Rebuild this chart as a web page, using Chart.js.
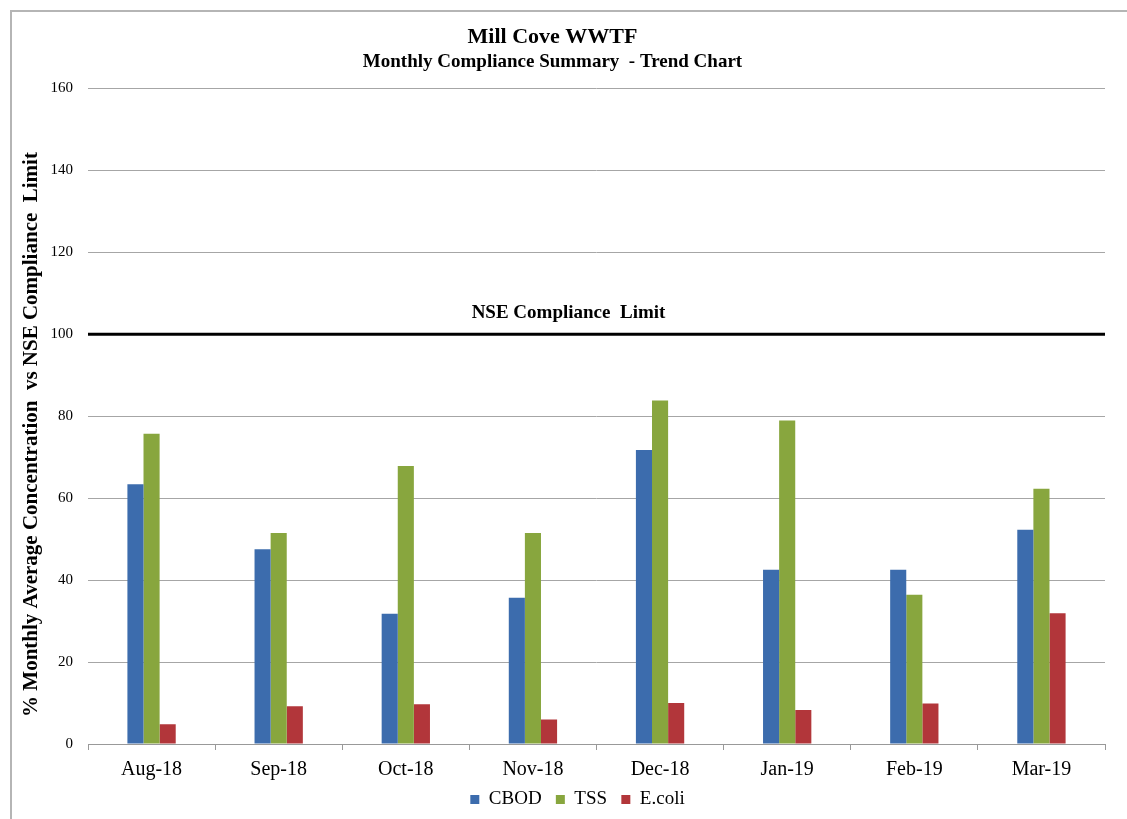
<!DOCTYPE html>
<html lang="en">
<head>
  <meta charset="UTF-8">
  <title>Mill Cove WWTF - Monthly Compliance Summary</title>
  <script src="https://cdn.jsdelivr.net/npm/chart.js"></script>
  <style>
    html, body { margin: 0; padding: 0; background: #fff; }
    #wrap { position: absolute; left: 0; top: 0; width: 1127px; height: 819px; }
  </style>
</head>
<body>

<div id="wrap"><canvas id="trendChart" width="1127" height="819"></canvas></div>

<script>
// categories and series (% of NSE compliance limit)
var months = ['Aug-18', 'Sep-18', 'Oct-18', 'Nov-18', 'Dec-18', 'Jan-19', 'Feb-19', 'Mar-19'];
var cbod   = [63.4, 47.5, 31.8, 35.7, 71.7, 42.5, 42.5, 52.3];
var tss    = [75.7, 51.5, 67.8, 51.5, 83.8, 78.9, 36.4, 62.3];
var ecoli  = [4.8, 9.2, 9.7, 6.0, 10.0, 8.3, 9.9, 31.9];
var yTicks = [0, 20, 40, 60, 80, 100, 120, 140, 160];
var complianceLimit = 100;
var serif = '"Liberation Serif", "Times New Roman", serif';

// frame round the chart
var framePlugin = {
  id: 'frame',
  beforeDraw: function (chart) {
    var c = chart.ctx;
    c.save();
    c.strokeStyle = '#b5b5b5';
    c.lineWidth = 2;
    c.beginPath();
    c.moveTo(11, 830);
    c.lineTo(11, 11);
    c.lineTo(1130, 11);
    c.stroke();
    c.restore();
  }
};

// thick black line at the compliance limit, with its label
var limitPlugin = {
  id: 'limitLine',
  afterDatasetsDraw: function (chart) {
    var c = chart.ctx, a = chart.chartArea;
    var y = chart.scales.y.getPixelForValue(complianceLimit);
    c.save();
    c.strokeStyle = '#000';
    c.lineWidth = 3;
    c.beginPath();
    c.moveTo(a.left, y);
    c.lineTo(a.right, y);
    c.stroke();
    c.fillStyle = '#000';
    c.font = 'bold 19px ' + serif;
    c.textAlign = 'center';
    c.textBaseline = 'bottom';
    c.fillText('NSE Compliance  Limit', (a.left + a.right) / 2 - 28, y - 12);
    c.restore();
  }
};

var ctx = document.getElementById('trendChart').getContext('2d');
var chart = new Chart(ctx, {
  type: 'bar',
  data: {
    labels: months,
    datasets: [
      { label: 'CBOD', data: cbod, backgroundColor: '#3c6cad' },
      { label: 'TSS', data: tss, backgroundColor: '#88a63e' },
      { label: 'E.coli', data: ecoli, backgroundColor: '#b2363a' }
    ]
  },
  options: {
    responsive: false,
    animation: false,
    categoryPercentage: 0.38,
    barPercentage: 1.0,
    layout: { padding: { left: 0, right: 22, top: 14, bottom: 0 } },
    plugins: {
      title: {
        display: true,
        text: 'Mill Cove WWTF',
        color: '#000',
        font: { family: serif, size: 22, weight: 'bold' },
        padding: { top: 10, bottom: 0 }
      },
      subtitle: {
        display: true,
        text: 'Monthly Compliance Summary  - Trend Chart',
        color: '#000',
        font: { family: serif, size: 19, weight: 'bold' },
        padding: { top: 0, bottom: 15 }
      },
      legend: {
        position: 'bottom',
        fullSize: false,
        labels: {
          color: '#000',
          font: { family: serif, size: 19 },
          boxWidth: 9,
          boxHeight: 9,
          padding: 0,
          generateLabels: function (chart) {
            var items = Chart.defaults.plugins.legend.labels.generateLabels(chart);
            items.forEach(function (it, i) {
              it.text = it.text + (i < items.length - 1 ? '   ' : '        ');
            });
            return items;
          }
        }
      },
      tooltip: { enabled: false }
    },
    scales: {
      x: {
        grid: { display: true, drawOnChartArea: false, drawTicks: true, tickLength: 6, color: '#999', offset: true },
        border: { display: true, color: '#999', width: 1 },
        ticks: { color: '#000', font: { family: serif, size: 20 }, padding: 8 }
      },
      y: {
        min: 0,
        max: 160,
        afterBuildTicks: function (s) { s.ticks = yTicks.map(function (v) { return { value: v }; }); },
        afterFit: function (s) { s.width = 88; },
        grid: { color: '#a6a6a6', drawTicks: false },
        border: { display: false },
        ticks: { color: '#000', font: { family: serif, size: 15 }, padding: 15 },
        title: {
          display: true,
          text: '% Monthly Average Concentration  vs NSE Compliance  Limit       ',
          color: '#000',
          font: { family: serif, size: 21, weight: 'bold' },
          padding: { top: 19, bottom: 0 }
        }
      }
    }
  },
  plugins: [framePlugin, limitPlugin]
});
</script>

</body>
</html>
